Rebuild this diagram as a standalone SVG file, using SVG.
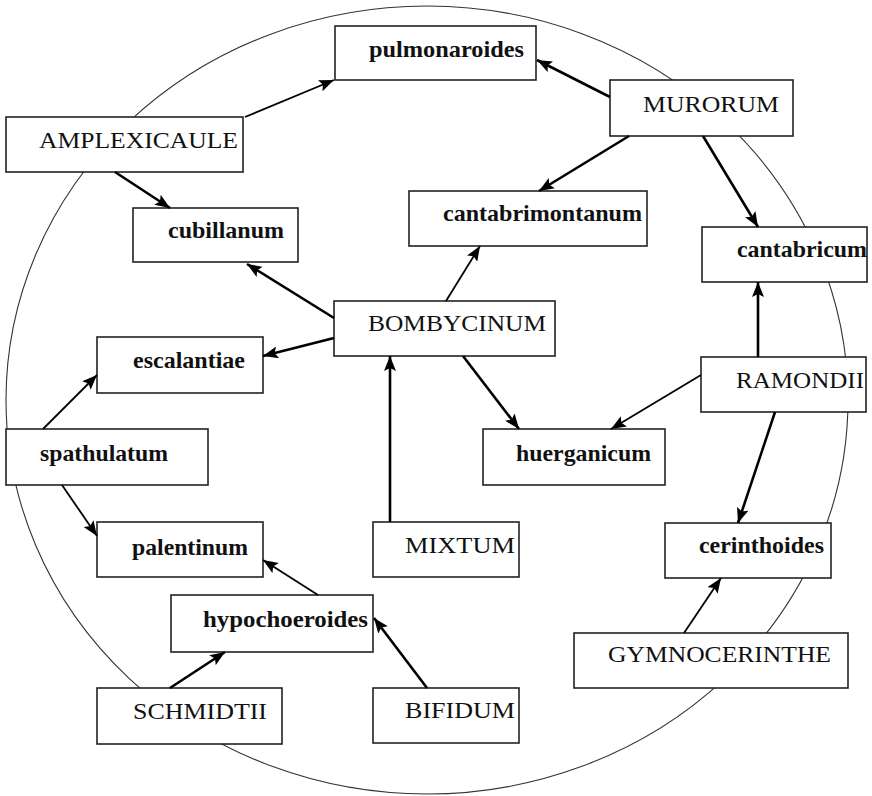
<svg xmlns="http://www.w3.org/2000/svg" width="872" height="796" viewBox="0 0 872 796">
<style>
.box{fill:#fff;stroke:#222;stroke-width:1.6}
.lc{font-family:"Liberation Serif","Times New Roman",serif;font-size:24px;font-weight:bold;fill:#111}
.uc{font-family:"Liberation Serif","Times New Roman",serif;font-size:24px;fill:#111}
.ring{fill:none;stroke:#333;stroke-width:1.1}
.arr{stroke:#000;stroke-width:2.6;fill:none;marker-end:url(#ah)}
.thin{stroke-width:1.8}
</style>
<defs>
<marker id="ah" markerUnits="userSpaceOnUse" markerWidth="15" markerHeight="12" refX="15" refY="6" orient="auto">
<path d="M0,0 L15,6 L0,12 L3,6 z" fill="#000"/>
</marker>
</defs>
<rect width="872" height="796" fill="#fff"/>
<ellipse class="ring" cx="427" cy="400" rx="421" ry="394"/>
<g id="nodes">
<g id="pulmonaroides"><rect class="box" x="335" y="26" width="201" height="54"/><text class="lc" x="369" y="57" textLength="155" lengthAdjust="spacingAndGlyphs">pulmonaroides</text></g>
<g id="murorum"><rect class="box" x="610" y="80" width="183" height="56"/><text class="uc" x="643" y="112" textLength="136" lengthAdjust="spacingAndGlyphs">MURORUM</text></g>
<g id="amplexicaule"><rect class="box" x="6" y="117" width="237" height="55"/><text class="uc" x="39" y="148" textLength="199" lengthAdjust="spacingAndGlyphs">AMPLEXICAULE</text></g>
<g id="cubillanum"><rect class="box" x="133" y="208" width="165" height="54"/><text class="lc" x="168" y="238" textLength="116" lengthAdjust="spacingAndGlyphs">cubillanum</text></g>
<g id="cantabrimontanum"><rect class="box" x="409" y="191" width="238" height="55"/><text class="lc" x="443" y="221" textLength="199" lengthAdjust="spacingAndGlyphs">cantabrimontanum</text></g>
<g id="cantabricum"><rect class="box" x="702" y="227" width="165" height="55"/><text class="lc" x="737" y="257" textLength="130" lengthAdjust="spacingAndGlyphs">cantabricum</text></g>
<g id="bombycinum"><rect class="box" x="334" y="301" width="221" height="55"/><text class="uc" x="368" y="331" textLength="178" lengthAdjust="spacingAndGlyphs">BOMBYCINUM</text></g>
<g id="escalantiae"><rect class="box" x="97" y="337" width="166" height="56"/><text class="lc" x="133" y="368" textLength="112" lengthAdjust="spacingAndGlyphs">escalantiae</text></g>
<g id="ramondii"><rect class="box" x="701" y="357" width="165" height="55"/><text class="uc" x="736" y="388" textLength="128" lengthAdjust="spacingAndGlyphs">RAMONDII</text></g>
<g id="spathulatum"><rect class="box" x="6" y="429" width="202" height="56"/><text class="lc" x="40" y="461" textLength="128" lengthAdjust="spacingAndGlyphs">spathulatum</text></g>
<g id="huerganicum"><rect class="box" x="483" y="429" width="182" height="56"/><text class="lc" x="516" y="461" textLength="135" lengthAdjust="spacingAndGlyphs">huerganicum</text></g>
<g id="palentinum"><rect class="box" x="97" y="522" width="166" height="55"/><text class="lc" x="132" y="555" textLength="116" lengthAdjust="spacingAndGlyphs">palentinum</text></g>
<g id="mixtum"><rect class="box" x="373" y="522" width="146" height="55"/><text class="uc" x="405" y="553" textLength="110" lengthAdjust="spacingAndGlyphs">MIXTUM</text></g>
<g id="cerinthoides"><rect class="box" x="665" y="523" width="166" height="55"/><text class="lc" x="699" y="553" textLength="125" lengthAdjust="spacingAndGlyphs">cerinthoides</text></g>
<g id="hypochoeroides"><rect class="box" x="171" y="595" width="202" height="57"/><text class="lc" x="203" y="627" textLength="165" lengthAdjust="spacingAndGlyphs">hypochoeroides</text></g>
<g id="gymnocerinthe"><rect class="box" x="574" y="633" width="274" height="55"/><text class="uc" x="608" y="662" textLength="223" lengthAdjust="spacingAndGlyphs">GYMNOCERINTHE</text></g>
<g id="schmidtii"><rect class="box" x="97" y="688" width="185" height="56"/><text class="uc" x="133" y="719" textLength="134" lengthAdjust="spacingAndGlyphs">SCHMIDTII</text></g>
<g id="bifidum"><rect class="box" x="373" y="688" width="146" height="55"/><text class="uc" x="405" y="718" textLength="110" lengthAdjust="spacingAndGlyphs">BIFIDUM</text></g>
</g>
<g id="connectors">
<line class="arr thin" x1="245" y1="117" x2="334" y2="80"/>
<line class="arr" x1="115" y1="172" x2="170" y2="208"/>
<line class="arr" x1="610" y1="97" x2="537" y2="60"/>
<line class="arr" x1="629" y1="136" x2="539" y2="191"/>
<line class="arr" x1="703" y1="136" x2="758" y2="227"/>
<line class="arr" x1="334" y1="318" x2="247" y2="264"/>
<line class="arr" x1="334" y1="338" x2="263" y2="356"/>
<line class="arr thin" x1="446" y1="301" x2="480" y2="246"/>
<line class="arr" x1="463" y1="356" x2="519" y2="429"/>
<line class="arr" x1="390" y1="522" x2="390" y2="356"/>
<line class="arr" x1="758" y1="357" x2="758" y2="282"/>
<line class="arr thin" x1="701" y1="375" x2="611" y2="429"/>
<line class="arr" x1="775" y1="412" x2="738" y2="523"/>
<line class="arr thin" x1="43" y1="429" x2="97" y2="375"/>
<line class="arr thin" x1="62" y1="485" x2="97" y2="536"/>
<line class="arr thin" x1="318" y1="595" x2="263" y2="560"/>
<line class="arr" x1="170" y1="688" x2="225" y2="652"/>
<line class="arr" x1="427" y1="688" x2="374" y2="618"/>
<line class="arr thin" x1="684" y1="633" x2="721" y2="578"/>
</g>
</svg>
